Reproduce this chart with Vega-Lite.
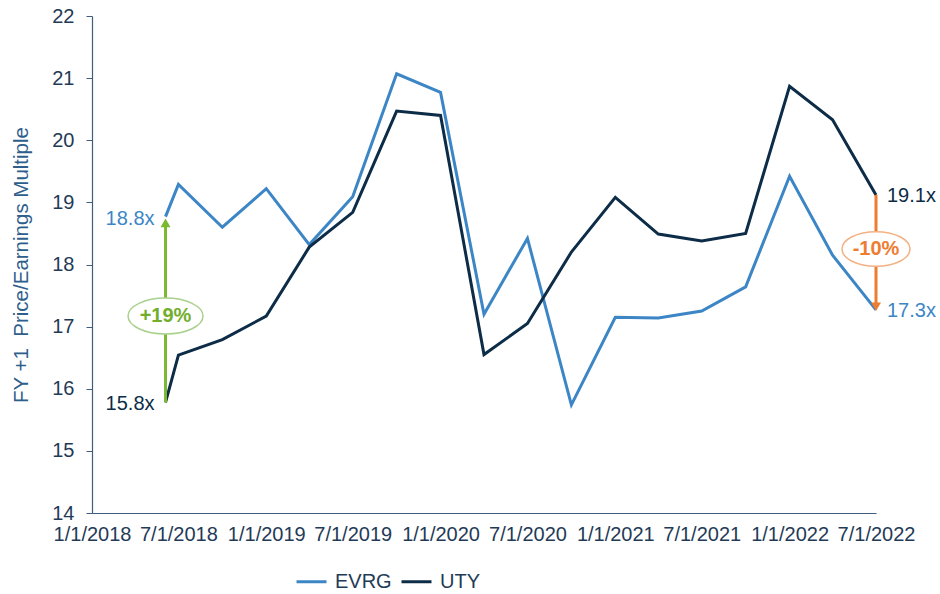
{
  "$schema": "https://vega.github.io/schema/vega-lite/v6.json",
  "autosize": {"type": "none"},
  "width": 784,
  "height": 497,
  "padding": {"left": 92, "top": 16, "right": 64, "bottom": 81},
  "background": "white",
  "config": {
    "view": {"stroke": null},
    "font": "Liberation Sans",
    "axis": {"grid": false}
  },
  "datasets": {
    "pe": [
      {"date": "2018-06-04", "ticker": "EVRG", "pe": 18.77},
      {"date": "2018-07-01", "ticker": "EVRG", "pe": 19.29},
      {"date": "2018-10-01", "ticker": "EVRG", "pe": 18.60},
      {"date": "2019-01-01", "ticker": "EVRG", "pe": 19.22},
      {"date": "2019-04-01", "ticker": "EVRG", "pe": 18.32},
      {"date": "2019-07-01", "ticker": "EVRG", "pe": 19.09},
      {"date": "2019-10-01", "ticker": "EVRG", "pe": 21.07},
      {"date": "2020-01-01", "ticker": "EVRG", "pe": 20.77},
      {"date": "2020-04-01", "ticker": "EVRG", "pe": 17.20},
      {"date": "2020-07-01", "ticker": "EVRG", "pe": 18.42},
      {"date": "2020-10-01", "ticker": "EVRG", "pe": 15.74},
      {"date": "2021-01-01", "ticker": "EVRG", "pe": 17.15},
      {"date": "2021-04-01", "ticker": "EVRG", "pe": 17.14},
      {"date": "2021-07-01", "ticker": "EVRG", "pe": 17.25},
      {"date": "2021-10-01", "ticker": "EVRG", "pe": 17.64},
      {"date": "2022-01-01", "ticker": "EVRG", "pe": 19.42},
      {"date": "2022-04-01", "ticker": "EVRG", "pe": 18.15},
      {"date": "2022-07-01", "ticker": "EVRG", "pe": 17.27},
      {"date": "2018-06-04", "ticker": "UTY", "pe": 15.78},
      {"date": "2018-07-01", "ticker": "UTY", "pe": 16.54},
      {"date": "2018-10-01", "ticker": "UTY", "pe": 16.79},
      {"date": "2019-01-01", "ticker": "UTY", "pe": 17.17},
      {"date": "2019-04-01", "ticker": "UTY", "pe": 18.28},
      {"date": "2019-07-01", "ticker": "UTY", "pe": 18.84},
      {"date": "2019-10-01", "ticker": "UTY", "pe": 20.47},
      {"date": "2020-01-01", "ticker": "UTY", "pe": 20.40},
      {"date": "2020-04-01", "ticker": "UTY", "pe": 16.55},
      {"date": "2020-07-01", "ticker": "UTY", "pe": 17.05},
      {"date": "2020-10-01", "ticker": "UTY", "pe": 18.20},
      {"date": "2021-01-01", "ticker": "UTY", "pe": 19.08},
      {"date": "2021-04-01", "ticker": "UTY", "pe": 18.49},
      {"date": "2021-07-01", "ticker": "UTY", "pe": 18.38},
      {"date": "2021-10-01", "ticker": "UTY", "pe": 18.50},
      {"date": "2022-01-01", "ticker": "UTY", "pe": 20.87},
      {"date": "2022-04-01", "ticker": "UTY", "pe": 20.33},
      {"date": "2022-07-01", "ticker": "UTY", "pe": 19.12}
    ]
  },
  "layer": [
    {
      "data": {"name": "pe"},
      "mark": {"type": "line", "strokeWidth": 3, "strokeJoin": "miter"},
      "encoding": {
        "x": {
          "field": "date", "type": "temporal",
          "scale": {"type": "utc", "domain": [{"year": 2018, "month": 1, "date": 1, "utc": true}, {"year": 2022, "month": 7, "date": 1, "utc": true}], "nice": false},
          "axis": {
            "title": null,
            "values": [
              {"year": 2018, "month": 1, "date": 1, "utc": true},
              {"year": 2018, "month": 7, "date": 1, "utc": true},
              {"year": 2019, "month": 1, "date": 1, "utc": true},
              {"year": 2019, "month": 7, "date": 1, "utc": true},
              {"year": 2020, "month": 1, "date": 1, "utc": true},
              {"year": 2020, "month": 7, "date": 1, "utc": true},
              {"year": 2021, "month": 1, "date": 1, "utc": true},
              {"year": 2021, "month": 7, "date": 1, "utc": true},
              {"year": 2022, "month": 1, "date": 1, "utc": true},
              {"year": 2022, "month": 7, "date": 1, "utc": true}
            ],
            "format": "%-m/%-d/%Y",
            "labelFlush": false,
            "labelOverlap": false,
            "ticks": false,
            "tickSize": 0,
            "labelPadding": 11,
            "labelFontSize": 20,
            "labelColor": "#1F3B57",
            "domainColor": "#3F5D7C",
            "domainWidth": 1.2
          }
        },
        "y": {
          "field": "pe", "type": "quantitative",
          "scale": {"domain": [14, 22], "nice": false, "zero": false},
          "axis": {
            "title": "FY +1\u00a0\u00a0Price/Earnings Multiple",
            "titleFontSize": 20.5,
            "titleFontWeight": "normal",
            "titleColor": "#2E5E8C",
            "titleAngle": -90,
            "titleX": -65,
            "titleY": 248.5,
            "titleAlign": "center",
            "titleBaseline": "alphabetic",
            "values": [14, 15, 16, 17, 18, 19, 20, 21, 22],
            "format": "d",
            "tickSize": 6,
            "tickColor": "#3F5D7C",
            "labelPadding": 12,
            "labelFontSize": 20,
            "labelColor": "#1F3B57",
            "domainColor": "#3F5D7C",
            "domainWidth": 1.2
          }
        },
        "color": {
          "field": "ticker", "type": "nominal",
          "scale": {"domain": ["EVRG", "UTY"], "range": ["#3C86C6", "#0D2C47"]},
          "legend": {
            "title": null,
            "orient": "none",
            "direction": "horizontal",
            "legendX": 203,
            "legendY": 549,
            "symbolType": "stroke",
            "symbolSize": 900,
            "symbolStrokeWidth": 3,
            "labelFontSize": 20,
            "labelColor": "#1F3B57",
            "labelOffset": 7,
            "columnPadding": 3
          }
        }
      }
    },
    {
      "data": {"values": [{"date": "2018-06-04", "from": 15.78, "to": 18.67}]},
      "mark": {"type": "rule", "color": "#7AB82F", "strokeWidth": 3},
      "encoding": {
        "x": {"field": "date", "type": "temporal"},
        "y": {"field": "from", "type": "quantitative"},
        "y2": {"field": "to"}
      }
    },
    {
      "data": {"values": [{"date": "2018-06-04", "tip": 18.67}]},
      "mark": {"type": "point", "shape": "triangle-up", "size": 100, "filled": true, "color": "#7AB82F", "opacity": 1},
      "encoding": {
        "x": {"field": "date", "type": "temporal"},
        "y": {"field": "tip", "type": "quantitative"}
      }
    },
    {
      "data": {"values": [{"date": "2022-07-01", "from": 19.12, "to": 17.32}]},
      "mark": {"type": "rule", "color": "#ED7D31", "strokeWidth": 3},
      "encoding": {
        "x": {"field": "date", "type": "temporal"},
        "y": {"field": "from", "type": "quantitative"},
        "y2": {"field": "to"}
      }
    },
    {
      "data": {"values": [{"date": "2022-07-01", "tip": 17.32}]},
      "mark": {"type": "point", "shape": "triangle-down", "size": 100, "filled": true, "color": "#ED7D31", "opacity": 1},
      "encoding": {
        "x": {"field": "date", "type": "temporal"},
        "y": {"field": "tip", "type": "quantitative"}
      }
    },
    {
      "data": {"values": [{"date": "2018-06-04", "mid": 17.17}]},
      "mark": {"type": "point", "shape": "M-1,0A1,0.48,0,1,0,1,0A1,0.48,0,1,0,-1,0Z", "size": 5625, "filled": false, "fill": "white", "fillOpacity": 1, "stroke": "#A9D18E", "strokeWidth": 1.5, "opacity": 1},
      "encoding": {
        "x": {"field": "date", "type": "temporal"},
        "y": {"field": "mid", "type": "quantitative"}
      }
    },
    {
      "data": {"values": [{"date": "2022-07-01", "mid": 18.25}]},
      "mark": {"type": "point", "shape": "M-1,0A1,0.51,0,1,0,1,0A1,0.51,0,1,0,-1,0Z", "size": 4624, "filled": false, "fill": "white", "fillOpacity": 1, "stroke": "#F4B183", "strokeWidth": 1.5, "opacity": 1},
      "encoding": {
        "x": {"field": "date", "type": "temporal"},
        "y": {"field": "mid", "type": "quantitative"}
      }
    },
    {
      "data": {"values": [{"date": "2018-06-04", "mid": 17.17, "label": "+19%"}]},
      "mark": {"type": "text", "fontSize": 20, "fontWeight": "bold", "color": "#72AE2C", "align": "center", "baseline": "middle"},
      "encoding": {
        "x": {"field": "date", "type": "temporal"},
        "y": {"field": "mid", "type": "quantitative"},
        "text": {"field": "label"}
      }
    },
    {
      "data": {"values": [{"date": "2022-07-01", "mid": 18.25, "label": "-10%"}]},
      "mark": {"type": "text", "fontSize": 20, "fontWeight": "bold", "color": "#ED7D31", "align": "center", "baseline": "middle"},
      "encoding": {
        "x": {"field": "date", "type": "temporal"},
        "y": {"field": "mid", "type": "quantitative"},
        "text": {"field": "label"}
      }
    },
    {
      "data": {"values": [
        {"date": "2018-06-04", "v": 18.77, "label": "18.8x", "ticker": "EVRG"},
        {"date": "2018-06-04", "v": 15.78, "label": "15.8x", "ticker": "UTY"}
      ]},
      "mark": {"type": "text", "fontSize": 20, "align": "right", "baseline": "middle", "dx": -11, "dy": 2},
      "encoding": {
        "x": {"field": "date", "type": "temporal"},
        "y": {"field": "v", "type": "quantitative"},
        "text": {"field": "label"},
        "color": {"field": "ticker", "type": "nominal", "legend": null}
      }
    },
    {
      "data": {"values": [
        {"date": "2022-07-01", "v": 19.12, "label": "19.1x", "ticker": "UTY"},
        {"date": "2022-07-01", "v": 17.27, "label": "17.3x", "ticker": "EVRG"}
      ]},
      "mark": {"type": "text", "fontSize": 20, "align": "left", "baseline": "middle", "dx": 11, "dy": 1},
      "encoding": {
        "x": {"field": "date", "type": "temporal"},
        "y": {"field": "v", "type": "quantitative"},
        "text": {"field": "label"},
        "color": {"field": "ticker", "type": "nominal", "legend": null}
      }
    }
  ]
}
